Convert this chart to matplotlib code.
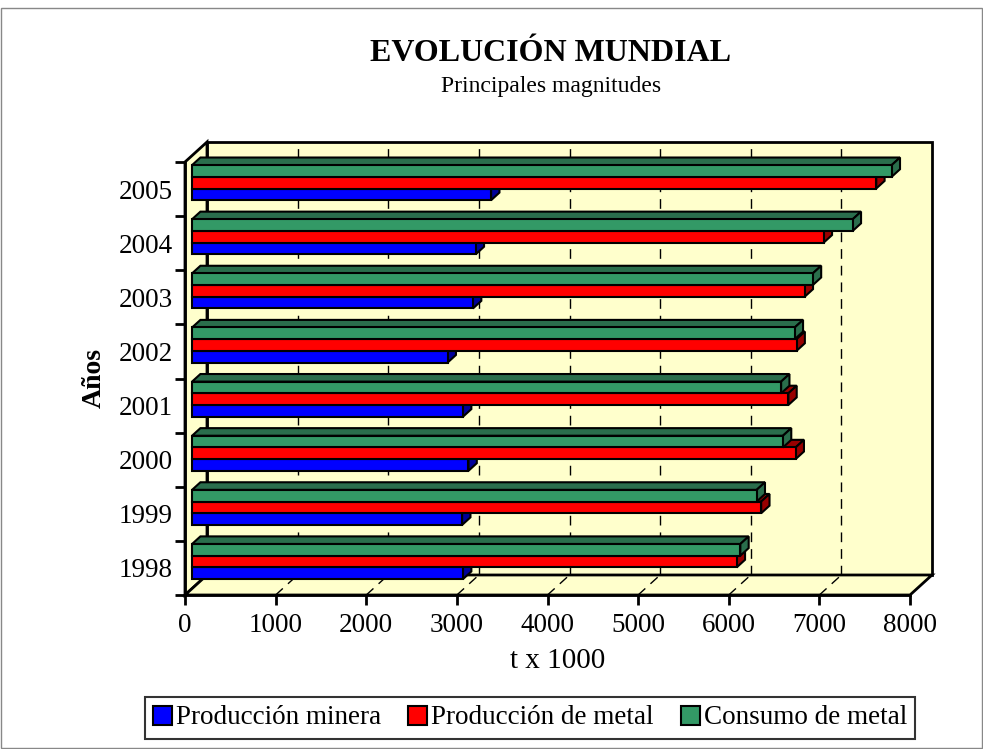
import numpy as np
import matplotlib
matplotlib.use("Agg")
import matplotlib.pyplot as plt
from matplotlib.patches import Polygon, Patch, Rectangle

plt.rcParams['font.family'] = ['Liberation Serif', 'DejaVu Serif']

years = ["1998", "1999", "2000", "2001", "2002", "2003", "2004", "2005"]
prod_minera = [2990, 2980, 3050, 2990, 2820, 3100, 3130, 3300]
prod_metal = [6010, 6280, 6660, 6580, 6670, 6760, 6970, 7550]
consumo_metal = [6050, 6230, 6520, 6500, 6650, 6850, 7290, 7720]
series_names = ["Producción minera", "Producción de metal", "Consumo de metal"]
xticks = [0, 1000, 2000, 3000, 4000, 5000, 6000, 7000, 8000]

front_cols = ["#0000FF", "#FF0000", "#339966"]
dark_cols = ["#000099", "#990000", "#2A6E4C"]
wall = "#FFFFCC"

fig = plt.figure(figsize=(9.83, 7.49), dpi=100)
W, H = 983, 749
ax = fig.add_axes([185 / W, 1 - 595 / H, 725 / W, 433 / H])
ax.set_xlim(0, 8000)
ax.set_ylim(-0.5, 7.5)
ax.patch.set_visible(False)

# 3d depth offset of the walls, in data units
DX = 22 * 8000 / 725
DY = 20 / 54.1
y0, y1 = -0.5, 7.5

# walls and floor
back = Polygon([(DX, y0 + DY), (8000 + DX, y0 + DY), (8000 + DX, y1 + DY), (DX, y1 + DY)],
               closed=True, facecolor=wall, edgecolor="black", lw=2, clip_on=False, zorder=0)
side = Polygon([(0, y0), (DX, y0 + DY), (DX, y1 + DY), (0, y1)],
               closed=True, facecolor=wall, edgecolor="black", lw=2, clip_on=False, zorder=0)
floor = Polygon([(0, y0), (8000, y0), (8000 + DX, y0 + DY), (DX, y0 + DY)],
                closed=True, facecolor=wall, edgecolor="black", lw=2, clip_on=False, zorder=0.5)
for p in (back, side, floor):
    ax.add_patch(p)

for xv in xticks[1:-1]:
    ax.plot([xv + DX, xv + DX], [y0 + DY, y1 + DY], color="black", lw=1,
            dashes=(7, 5), clip_on=False, zorder=0.6)
    ax.plot([xv, xv + DX], [y0, y0 + DY], color="black", lw=1,
            dashes=(7, 5), clip_on=False, zorder=0.6)

# bars
h = 0.216
d0 = 0.32
bd = 0.38
left = d0 * DX
bdx, bdy = bd * DX, bd * DY
ypos = np.arange(len(years))
data = [prod_minera, prod_metal, consumo_metal]
z = 2
for i in range(len(years)):
    for k in range(3):
        v = data[k][i]
        yc = ypos[i] + (k - 1) * h + d0 * DY
        yb, yt = yc - h / 2, yc + h / 2
        xe = left + v
        top = Polygon([(left, yt), (xe, yt), (xe + bdx, yt + bdy), (left + bdx, yt + bdy)],
                      closed=True, facecolor=dark_cols[k], edgecolor="black", lw=1.5,
                      clip_on=False, zorder=z)
        sd = Polygon([(xe, yb), (xe + bdx, yb + bdy), (xe + bdx, yt + bdy), (xe, yt)],
                     closed=True, facecolor=dark_cols[k], edgecolor="black", lw=1.5,
                     clip_on=False, zorder=z + 0.1)
        ax.add_patch(top)
        ax.add_patch(sd)
        ax.barh(yc, v, left=left, height=h, color=front_cols[k], edgecolor="black",
                lw=1.5, zorder=z + 0.2, clip_on=False)
        z += 1

# axes
for s in ("top", "right"):
    ax.spines[s].set_visible(False)
for s in ("left", "bottom"):
    ax.spines[s].set_linewidth(2)
    ax.spines[s].set_zorder(100)
ax.set_xticks(xticks)
ax.set_xticklabels([str(t) for t in xticks], fontsize=19.5)
ax.tick_params(axis="x", length=7, width=2, pad=6)
ax.set_yticks(np.arange(-0.5, 8, 1))
ax.set_yticklabels([])
ax.tick_params(axis="y", which="major", length=7, width=2)
ax.set_yticks(ypos, minor=True)
ax.set_yticklabels(years, minor=True, fontsize=19.5)
ax.tick_params(axis="y", which="minor", length=0, pad=9)

fig.text(551 / W, 1 - 61 / H, "EVOLUCIÓN MUNDIAL", ha="center", va="baseline",
         fontsize=23, fontweight="bold")
fig.text(551 / W, 1 - 92 / H, "Principales magnitudes", ha="center", va="baseline",
         fontsize=17)
fig.text(558 / W, 1 - 668 / H, "t x 1000", ha="center", va="baseline", fontsize=21)
fig.text(94 / W, 1 - 378 / H, "Años", ha="center", va="center", rotation=90,
         fontsize=20, fontweight="bold")

handles = [Patch(facecolor=c, edgecolor="black", lw=1.5) for c in front_cols]
fig.legend(handles, series_names, loc="center", bbox_to_anchor=(530 / W, 1 - 718 / H),
           ncol=3, fontsize=19.5, frameon=True, fancybox=False, edgecolor="black",
           handlelength=0.7, handleheight=0.7, handletextpad=0.15, columnspacing=1.0,
           borderpad=0.3, borderaxespad=0).get_frame().set_linewidth(1.5)

fig.add_artist(Rectangle((0.001, 0.001), 0.998, 0.988, transform=fig.transFigure,
                         fill=False, edgecolor="#888888", lw=1))

fig.savefig("out.png", dpi=100)
